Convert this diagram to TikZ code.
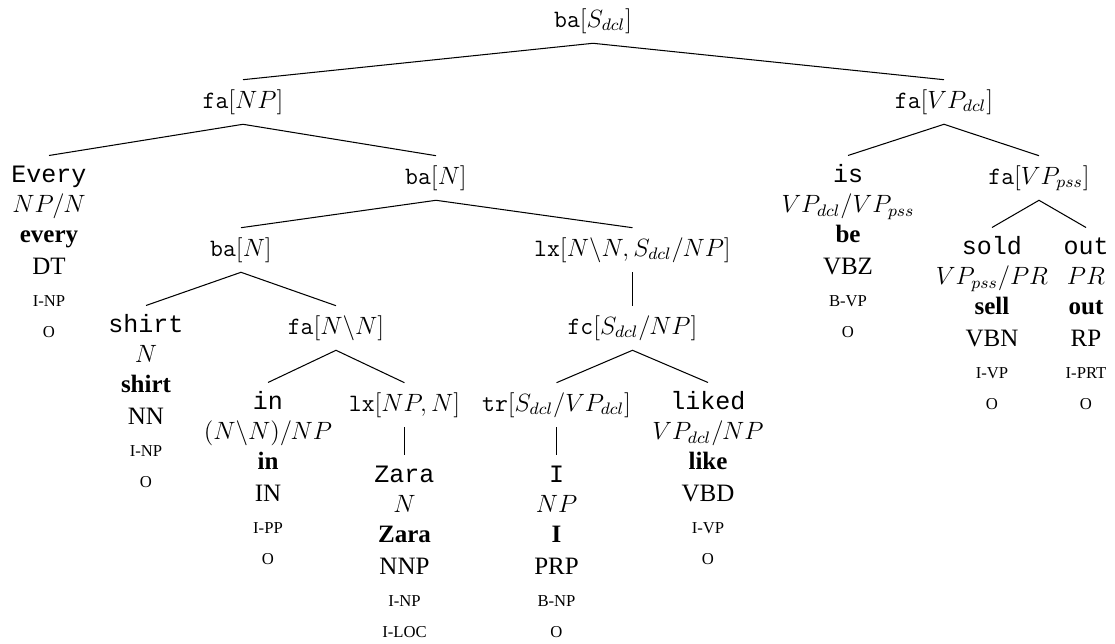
\documentclass[tikz,border=0pt]{standalone}
\usepackage[no-math]{fontspec}
\setmainfont{Liberation Serif}
\newfontfamily\wordfont{Liberation Mono}
\DeclareMathSizes{12}{12}{8}{6}

% One leaf column: word, category, lemma, POS tag, chunk tag, entity tag.
% #1 name, #2 x, #3 level y, #4 word, #5 category, #6 lemma, #7 POS, #8 chunk, #9 entity
\newcommand\leafcol[9]{%
  \node[wordnode]  (#1)   at (#2,#3+5)   {#4};
  \node[catnode]   (#1-c) at (#2,#3+35)  {$#5$};
  \node[lemmanode] (#1-l) at (#2,#3+65)  {#6};
  \node[posnode]   (#1-p) at (#2,#3+97)  {#7};
  \node[tagnode]   (#1-k) at (#2,#3+129) {#8};
  \node[tagnode]   (#1-n) at (#2,#3+160) {#9};
}

\begin{document}
\begin{tikzpicture}[x=0.48pt, y=-0.48pt,
  rulenode/.style={font=\fontsize{12}{14}\selectfont, text height=9pt,
    text depth=3pt, inner xsep=1pt, inner ysep=4.5pt},
  wordnode/.style={font=\fontsize{12}{14}\selectfont\wordfont, text height=8pt,
    text depth=2pt, inner xsep=1pt, inner ysep=5pt, anchor=base},
  catnode/.style={font=\fontsize{12}{14}\selectfont, anchor=base, inner sep=0pt},
  lemmanode/.style={font=\fontsize{12}{14}\selectfont\bfseries, anchor=base, inner sep=0pt},
  posnode/.style={font=\fontsize{12}{14}\selectfont, anchor=base, inner sep=0pt},
  tagnode/.style={font=\fontsize{8}{10}\selectfont, anchor=base, inner sep=0pt},
  branch/.style={line width=0.5pt, black}]

\useasboundingbox (0,0) rectangle (1115,644);

% internal derivation nodes
\node[rulenode] (root)    at (593,21)  {\texttt{ba}$[S_{dcl}]$};
\node[rulenode] (fanp)    at (243,102) {\texttt{fa}$[NP]$};
\node[rulenode] (favpdcl) at (944,102) {\texttt{fa}$[VP_{dcl}]$};
\node[rulenode] (bau)     at (436,178) {\texttt{ba}$[N]$};
\node[rulenode] (favppss) at (1039,178) {\texttt{fa}$[VP_{pss}]$};
\node[rulenode] (bal)     at (241,250) {\texttt{ba}$[N]$};
\node[rulenode] (lxu)     at (632.5,250) {\texttt{lx}$[N\backslash N, S_{dcl}/NP]$};
\node[rulenode] (fann)    at (336,328) {\texttt{fa}$[N\backslash N]$};
\node[rulenode] (fc)      at (632.5,328) {\texttt{fc}$[S_{dcl}/NP]$};
\node[rulenode] (lxnp)    at (404.5,405) {\texttt{lx}$[NP, N]$};
\node[rulenode] (tr)      at (556.5,405) {\texttt{tr}$[S_{dcl}/VP_{dcl}]$};

% leaves
\leafcol{every}{49}{178}{Every}{NP/N}{every}{DT}{I-NP}{O}
\leafcol{is}{848}{178}{is}{VP_{dcl}/VP_{pss}}{be}{VBZ}{B-VP}{O}
\leafcol{sold}{992}{250}{sold}{VP_{pss}/PR}{sell}{VBN}{I-VP}{O}
\leafcol{out}{1086}{250}{out}{PR}{out}{RP}{I-PRT}{O}
\leafcol{shirt}{146}{328}{shirt}{N}{shirt}{NN}{I-NP}{O}
\leafcol{in}{268}{405}{in}{(N\backslash N)/NP}{in}{IN}{I-PP}{O}
\leafcol{liked}{708}{405}{liked}{VP_{dcl}/NP}{like}{VBD}{I-VP}{O}
\leafcol{zara}{404.5}{478}{Zara}{N}{Zara}{NNP}{I-NP}{I-LOC}
\leafcol{i}{556.5}{478}{I}{NP}{I}{PRP}{B-NP}{O}

% branches
\draw[branch] (fanp.north) -- (root.south) -- (favpdcl.north);
\draw[branch] (every.north) -- (fanp.south) -- (bau.north);
\draw[branch] (bal.north) -- (bau.south) -- (lxu.north);
\draw[branch] (shirt.north) -- (bal.south) -- (fann.north);
\draw[branch] (in.north) -- (fann.south) -- (lxnp.north);
\draw[branch] (lxnp.south) -- (zara.north);
\draw[branch] (lxu.south) -- (fc.north);
\draw[branch] (tr.north) -- (fc.south) -- (liked.north);
\draw[branch] (tr.south) -- (i.north);
\draw[branch] (is.north) -- (favpdcl.south) -- (favppss.north);
\draw[branch] (sold.north) -- (favppss.south) -- (out.north);
\end{tikzpicture}
\end{document}
